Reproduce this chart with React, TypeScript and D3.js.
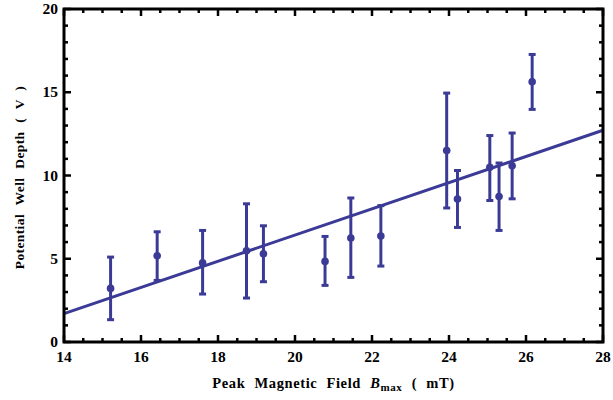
import React from "react";
import * as d3 from "d3";

const fieldB = [15.21, 16.42, 17.6, 18.74, 19.18, 20.78, 21.45, 22.23, 23.94, 24.22, 25.06, 25.3, 25.64, 26.16];
const depth = [3.22, 5.18, 4.75, 5.48, 5.3, 4.84, 6.25, 6.37, 11.5, 8.59, 10.49, 8.74, 10.59, 15.63];
const errHigh = [5.1, 6.62, 6.7, 8.3, 6.98, 6.34, 8.65, 8.19, 14.95, 10.3, 12.4, 10.75, 12.55, 17.27];
const errLow = [1.34, 3.7, 2.88, 2.64, 3.62, 3.4, 3.88, 4.56, 8.05, 6.88, 8.5, 6.7, 8.6, 13.97];
const fitX = [14, 28];
const fitY = [1.7, 12.72];
const xMajor = [14, 16, 18, 20, 22, 24, 26, 28];
const yMajor = [0, 5, 10, 15, 20];

const W = 613, H = 400;
const L = 64, R = 603, T = 9, B = 342;
const BLUE = "#3b3b97";
const FONT = "'Liberation Serif', 'Times New Roman', serif";

export default function App() {
  const x = d3.scaleLinear().domain([14, 28]).range([L, R]);
  const y = d3.scaleLinear().domain([0, 20]).range([B, T]);
  const xMinor = d3.range(14, 28.001, 0.5).filter((v) => !xMajor.includes(v));
  const yMinor = d3.range(0, 20.001, 1).filter((v) => !yMajor.includes(v));
  const line = d3.line<number>().x((_, i) => x(fitX[i])).y((_, i) => y(fitY[i]));
  const major = 7, minor = 4;
  const cap = 3.5;
  return (
    <svg width={W} height={H} style={{ position: "absolute", left: 0, top: 0 }}>
      <rect width={W} height={H} fill="#fff" />
      <path d={line(fitX) || ""} stroke={BLUE} strokeWidth={3} fill="none" />
      {fieldB.map((b, i) => (
        <g key={i} stroke={BLUE} strokeWidth={3}>
          <line x1={x(b)} x2={x(b)} y1={y(errLow[i])} y2={y(errHigh[i])} />
          <line x1={x(b) - cap} x2={x(b) + cap} y1={y(errLow[i])} y2={y(errLow[i])} />
          <line x1={x(b) - cap} x2={x(b) + cap} y1={y(errHigh[i])} y2={y(errHigh[i])} />
          <circle cx={x(b)} cy={y(depth[i])} r={3.8} fill={BLUE} stroke="none" />
        </g>
      ))}
      <g stroke="#000" strokeWidth={2.5}>
        {xMajor.map((v) => (
          <g key={"xm" + v}>
            <line x1={x(v)} x2={x(v)} y1={B} y2={B - major} />
            <line x1={x(v)} x2={x(v)} y1={T} y2={T + major} />
          </g>
        ))}
        {xMinor.map((v) => (
          <g key={"xn" + v}>
            <line x1={x(v)} x2={x(v)} y1={B} y2={B - minor} />
            <line x1={x(v)} x2={x(v)} y1={T} y2={T + minor} />
          </g>
        ))}
        {yMajor.map((v) => (
          <g key={"ym" + v}>
            <line x1={L} x2={L + major} y1={y(v)} y2={y(v)} />
            <line x1={R} x2={R - major} y1={y(v)} y2={y(v)} />
          </g>
        ))}
        {yMinor.map((v) => (
          <g key={"yn" + v}>
            <line x1={L} x2={L + minor} y1={y(v)} y2={y(v)} />
            <line x1={R} x2={R - minor} y1={y(v)} y2={y(v)} />
          </g>
        ))}
      </g>
      <rect x={L} y={T} width={R - L} height={B - T} fill="none" stroke="#000" strokeWidth={3} />
      <g fontFamily={FONT} fontWeight="bold" fontSize={15.5} fill="#000">
        {xMajor.map((v) => (
          <text key={"xl" + v} x={x(v)} y={362} textAnchor="middle">{v}</text>
        ))}
        {yMajor.map((v) => (
          <text key={"yl" + v} x={58} y={y(v) + 5} textAnchor="end">{v}</text>
        ))}
      </g>
      <text x={(L + R) / 2} y={388} textAnchor="middle" fontFamily={FONT} fontWeight="bold" fontSize={14.5} letterSpacing={0.6} wordSpacing={5}>
        Peak Magnetic Field <tspan fontStyle="italic">B</tspan>
        <tspan fontSize={11} dy={3}>max</tspan>
        <tspan dy={-3}> ( mT)</tspan>
      </text>
      <text transform={`translate(24, ${(T + B) / 2 + 2}) rotate(-90)`} textAnchor="middle" fontFamily={FONT} fontWeight="bold" fontSize={13.5} letterSpacing={0.4} wordSpacing={5}>
        Potential Well Depth ( V )
      </text>
    </svg>
  );
}
